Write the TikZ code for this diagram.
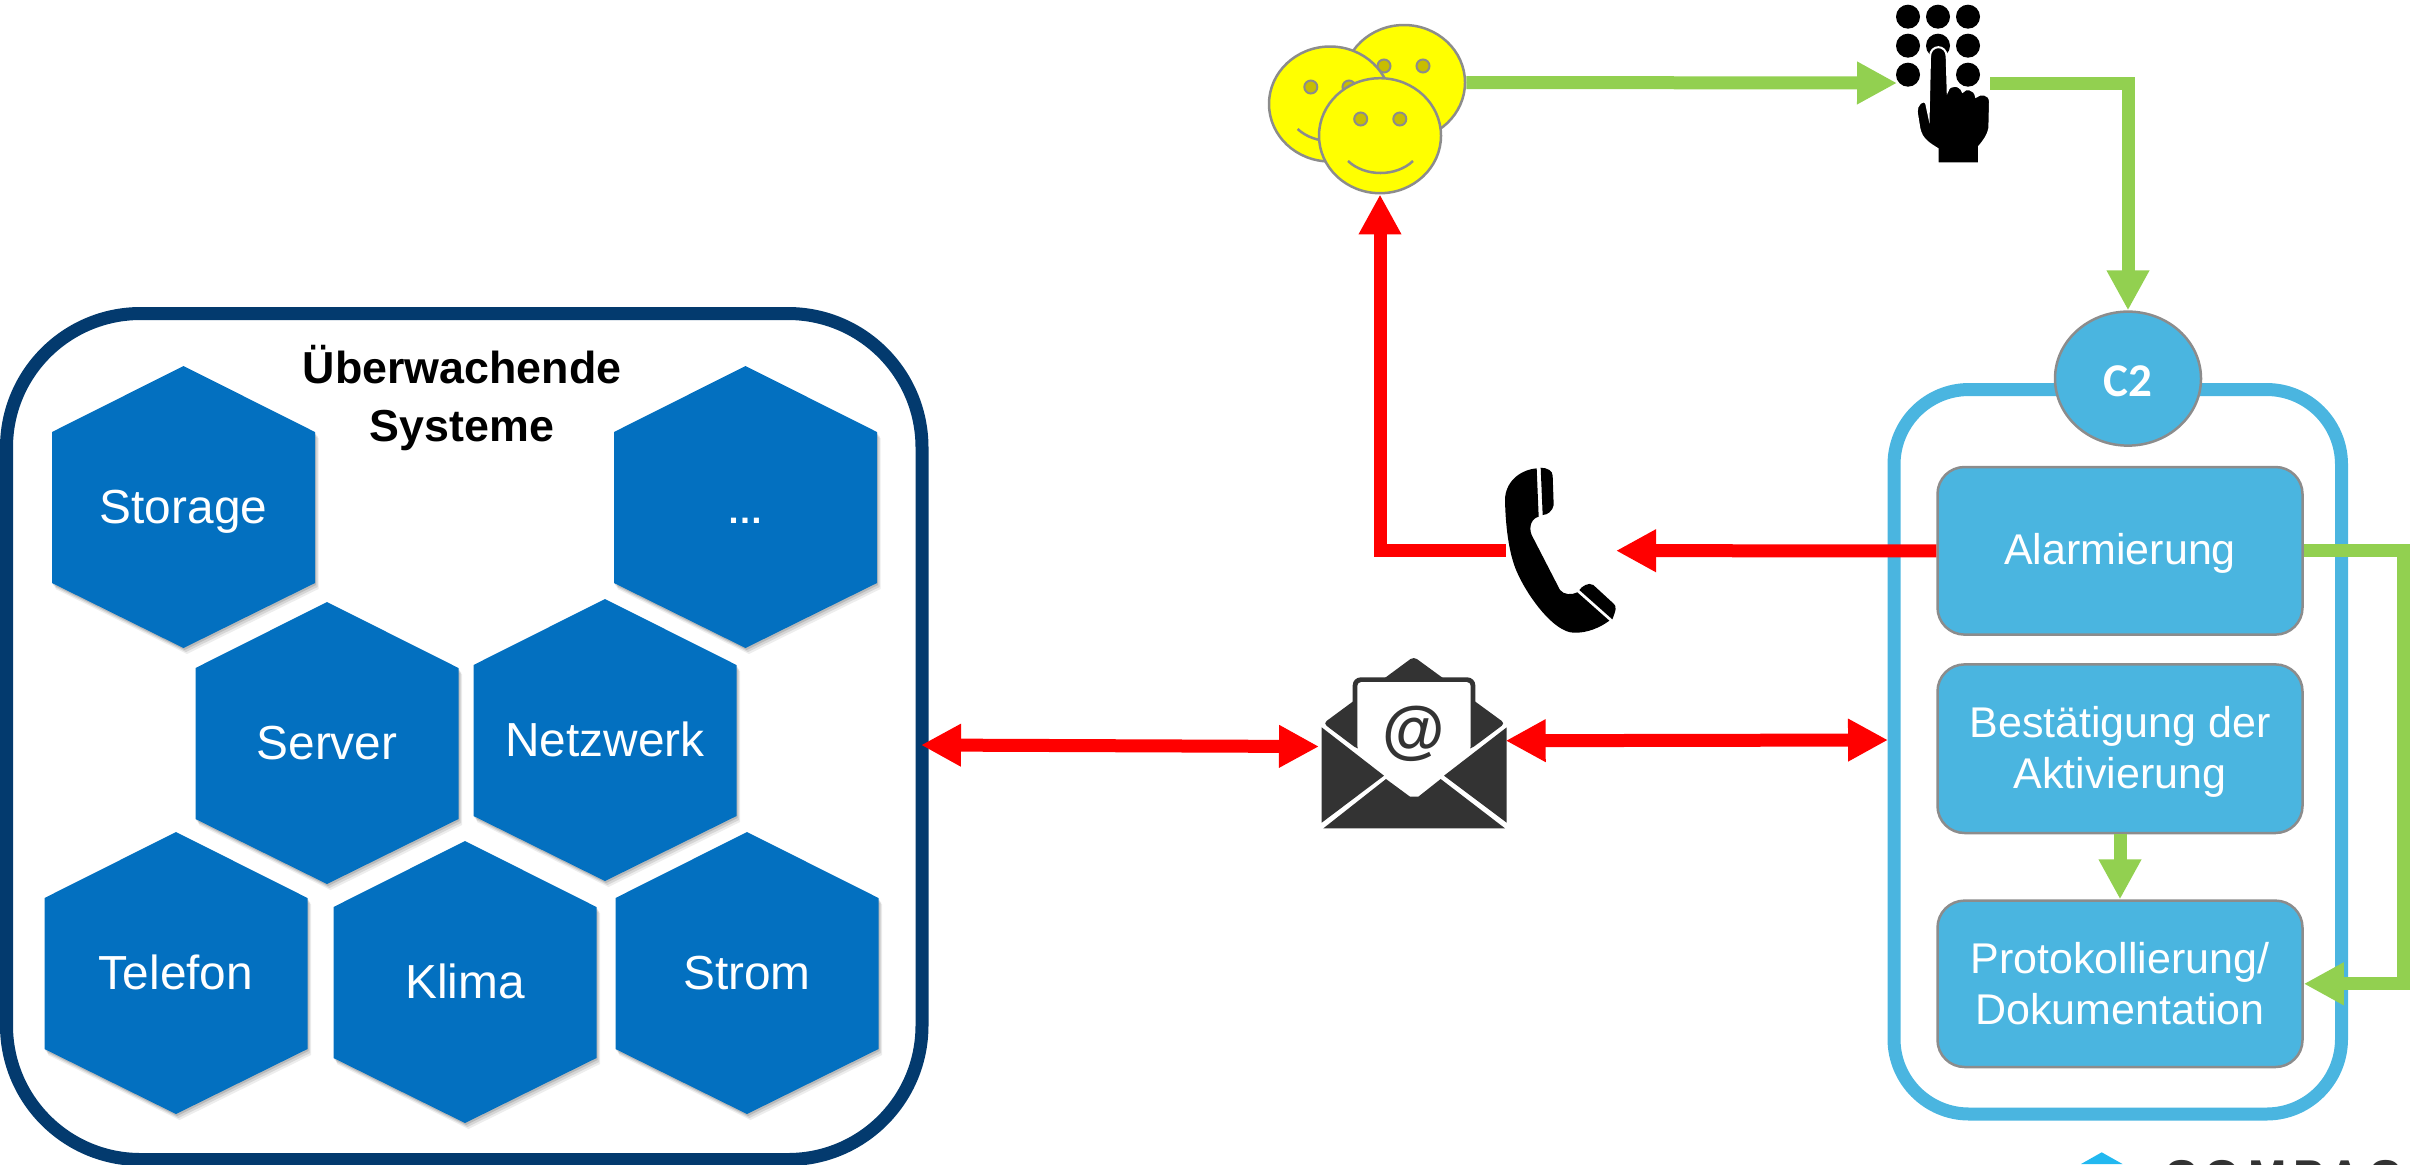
\documentclass[tikz,border=0pt]{standalone}
\usepackage{fontspec}
\setmainfont{Liberation Sans}
\newfontfamily\carlito{Carlito}
\usetikzlibrary{arrows.meta,shapes.geometric}
\definecolor{hexblue}{HTML}{0370C0}
\definecolor{navy}{HTML}{033A6E}
\definecolor{sky}{HTML}{4AB5E0}
\definecolor{leaf}{HTML}{92D050}
\definecolor{edge}{HTML}{8C8C8C}
\definecolor{mailgrey}{HTML}{333333}
\definecolor{eye}{HTML}{C8BE00}
\definecolor{logoblue}{HTML}{22B8F0}
\definecolor{smileyellow}{RGB}{255,255,0}
\definecolor{alarmred}{RGB}{255,0,0}
\newcommand{\lowerline}{\rule{0pt}{18.5pt}}
\tikzset{
  hexfill/.style={fill=hexblue},
  hextext/.style={text=white,anchor=base,inner sep=0pt,font=\fontsize{23.9}{28}\selectfont},
  boxnode/.style={draw=edge,line width=1.25pt,fill=sky,rounded corners=13.5pt,minimum width=182.5pt,text=white,inner sep=0pt,align=center,font=\fontsize{21.5}{25.5}\selectfont},
  redarrow/.style={draw=alarmred,line width=6.5pt,-{Triangle[length=20pt,width=20pt]}},
  redboth/.style={draw=alarmred,line width=6.5pt,{Triangle[length=20pt,width=20pt]}-{Triangle[length=20pt,width=20pt]}},
  greenarrow/.style={draw=leaf,line width=6.5pt,-{Triangle[length=20pt,width=20pt]}},
  smiley/.style={ellipse,draw=edge,line width=1.25pt,fill=smileyellow,minimum width=61pt,minimum height=57.5pt,inner sep=0pt},
  eyeball/.style={draw=edge,fill=eye,line width=1pt},
  mouth/.style={draw=edge,line width=1.25pt},
  iconscale/.style={x=.16667pt,y=-.16667pt},
}
\newcommand{\hexa}[4]{%
  \begin{scope}[shift={(#2,#3)}]
    \foreach \dx/\dy/\op in {3.5/6/.07,2.5/4/.10,1.2/2/.13}{
      \fill[black,opacity=\op,shift={(\dx,\dy)}] (0,-141) -- (131.5,-75) -- (131.5,76) -- (0,141) -- (-131.5,76) -- (-131.5,-75) -- cycle;
    }
    \fill[hexfill] (0,-141) -- (131.5,-75) -- (131.5,76) -- (0,141) -- (-131.5,76) -- (-131.5,-75) -- cycle;
  \end{scope}
  \node[hextext] (#1) at (#2,#3+16) {#4};
}
\begin{document}
\begin{tikzpicture}[x=.5pt,y=-.5pt]
\useasboundingbox (0,0) rectangle (2410,1164);
\clip (0,0) rectangle (2410,1164);

% left frame
\node[draw=navy,line width=6.5pt,rounded corners=67pt,minimum width=457.75pt,minimum height=423pt,inner sep=0pt] (sysframe) at (464.25,736.5) {};
\coordinate (sysR) at (921,745);
\hexa{storage}{183.5}{507}{Storage}
\hexa{dots}{745.5}{507}{\fontsize{18}{20}\selectfont\bfseries …}
\hexa{server}{327}{743}{Server}
\hexa{netz}{605}{740}{Netzwerk}
\hexa{telefon}{176}{973}{Telefon}
\hexa{klima}{465}{982}{Klima}
\hexa{strom}{747}{973}{Strom}
\node[align=center,inner sep=0pt,font=\fontsize{22.4}{29}\selectfont\bfseries] (title) at (462,398) {Überwachende\\Systeme};

% right frame
\node[draw=sky,line width=6.5pt,rounded corners=37.5pt,minimum width=223.75pt,minimum height=362.25pt,inner sep=0pt] (c2frame) at (2117.75,751.75) {};
\coordinate (c2L) at (1888,740);
\node[ellipse,draw=edge,line width=1.25pt,fill=sky,minimum width=73pt,minimum height=67pt,inner sep=0pt,text=white,font=\carlito\bfseries\fontsize{23.5}{26}\selectfont] (c2) at (2128,378.6) {\rule{0pt}{18pt}C2};
\node[boxnode,minimum height=83.8pt] (alarm) at (2120,550.8) {\lowerline Alarmierung};
\node[boxnode,minimum height=84.3pt] (confirm) at (2120,748.7) {\lowerline Bestätigung der\\Aktivierung};
\node[boxnode,minimum height=83.2pt] (proto) at (2120,983.8) {Protokollierung/\\Dokumentation};

% smileys
\node[smiley] (smileB) at (1404,82.5) {};
\draw[eyeball] (1384,66) circle[radius=6.5] (1423,66) circle[radius=6.5];
\draw[mouth] (1372,129) .. controls (1390,145) and (1420,145) .. (1437,129);
\node[smiley] (smileL) at (1330,104) {};
\draw[eyeball] (1310.8,87) circle[radius=6.5] (1349,87) circle[radius=6.5];
\draw[mouth] (1297.6,129) .. controls (1315,145) and (1345,145) .. (1362,129);
\node[smiley] (smileF) at (1380,135.7) {};
\draw[eyeball] (1360.7,119) circle[radius=6.5] (1399.8,119) circle[radius=6.5];
\draw[mouth] (1348,161) .. controls (1365,177) and (1396,177) .. (1413,161);

% keypad
\coordinate (keyL) at (1897,83);
\coordinate (keyR) at (1990,83.7);
\begin{scope}[shift={(1880,0)},iconscale]
  \foreach \px in {84,174,264}{ \fill (\px,50) circle[radius=36]; \fill (\px,137) circle[radius=36]; }
  \fill (84,224) circle[radius=36];
  \fill (264,224) circle[radius=36];
  \path[fill=black,draw=white,line width=1pt]
    (146,345) -- (150,170) .. controls (150,132) and (200,132) .. (200,170)
    -- (203,272) .. controls (208,252) and (240,252) .. (248,275)
    .. controls (255,262) and (285,265) .. (288,290)
    .. controls (300,278) and (330,280) .. (330,305)
    -- (328,385) .. controls (325,405) and (310,425) .. (297,440)
    -- (297,490) -- (173,490) -- (173,447)
    .. controls (150,432) and (125,420) .. (118,385)
    -- (110,335) .. controls (108,315) and (130,295) .. (138,308) -- cycle;
\end{scope}

% phone
\coordinate (phoneL) at (1505.7,550.7);
\coordinate (phoneR) at (1616,550.7);
\begin{scope}[shift={(1490,455)},iconscale]
  \fill (140,40) .. controls (85,45) and (45,85) .. (45,135)
    .. controls (47,230) and (60,310) .. (85,360)
    .. controls (115,425) and (190,530) .. (250,533)
    .. controls (290,535) and (330,518) .. (358,497)
    -- (262,412) .. controls (245,420) and (222,420) .. (210,405)
    -- (125,240) .. controls (115,215) and (125,190) .. (146,185) -- cycle;
  \fill (152,38) .. controls (172,38) and (188,48) .. (188,62)
    -- (191,150) .. controls (188,168) and (172,180) .. (158,180) -- cycle;
  \fill (268,405) .. controls (275,395) and (295,380) .. (310,390)
    -- (372,447) .. controls (380,455) and (378,465) .. (367,493) -- cycle;
\end{scope}

% envelope
\coordinate (mailL) at (1319,746.5);
\coordinate (mailR) at (1505.7,740.7);
\begin{scope}[shift={(1250,430)},iconscale]
  \fill[mailgrey,rounded corners=2pt] (220,880) -- (491,680) -- (765,880) -- (662,957) -- (322,957) -- cycle;
  \fill[mailgrey,rounded corners=4pt] (308,840) -- (308,742) -- (676,742) -- (676,840) -- cycle;
  \fill[white,rounded corners=2pt] (322,960) -- (322,756) -- (662,756) -- (662,960) -- (492,1103) -- cycle;
  \fill[mailgrey] (215,892) -- (402,1037) -- (215,1178) -- cycle;
  \fill[mailgrey] (770,892) -- (582,1037) -- (770,1178) -- cycle;
  \fill[mailgrey] (220,1195) -- (408,1047) -- (480,1100) -- (505,1100) -- (572,1047) -- (765,1195) -- cycle;
  \node[text=mailgrey,inner sep=0pt,font=\fontsize{32}{34}\selectfont\bfseries] (mailat) at (492,910) {@};
\end{scope}

% connectors
\draw[greenarrow] (smileB.east) -- (keyL);
\draw[greenarrow] (keyR) -| (c2.north);
\draw[redarrow] (alarm.west) -- (phoneR);
\draw[redarrow] (phoneL) -| (smileF.south);
\draw[redboth] (sysR) -- (mailL);
\draw[redboth] (mailR) -- (c2L);
\coordinate (loop) at (2403.5,550.8);
\draw[greenarrow] (alarm.east) -- (loop) |- (proto.east);
\draw[greenarrow] (confirm.south) -- (proto.north);

% logo (cut by the page edge)
\fill[logoblue] (2101.7,1152.3) -- (2122.5,1164) -- (2081,1164) -- cycle;
\node[anchor=base west,inner sep=0pt,text=mailgrey,font=\bfseries\fontsize{23}{26}\selectfont\addfontfeature{LetterSpace=16}] (logo) at (2164,1192) {COMPAC};
\end{tikzpicture}
\end{document}
